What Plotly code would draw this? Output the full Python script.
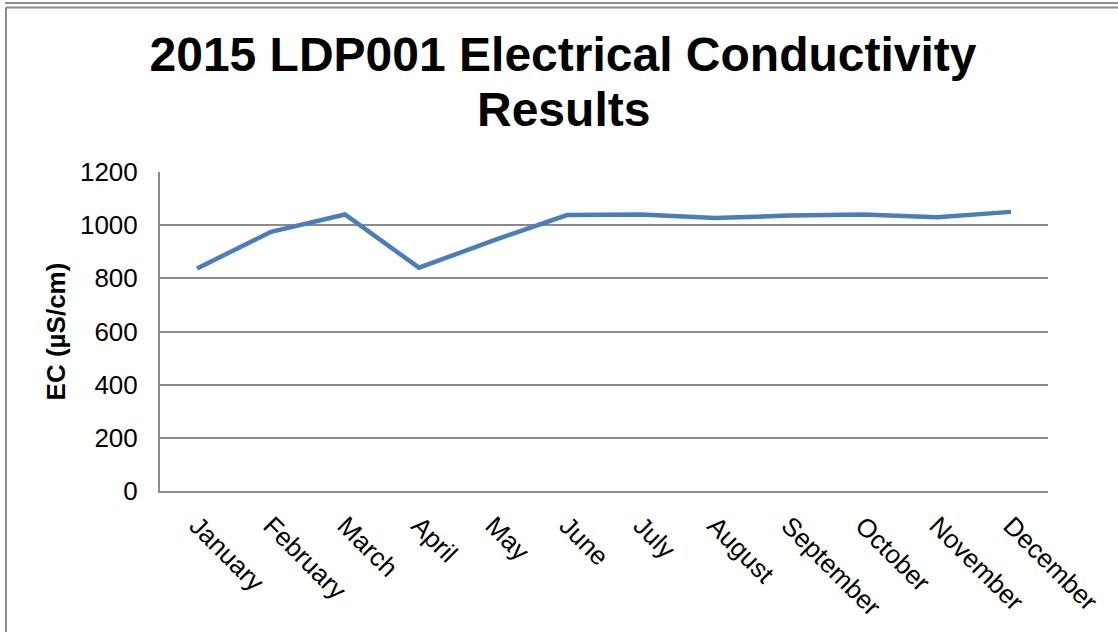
import plotly.graph_objects as go

# monthly EC readings for LDP001, 2015
months = ["January", "February", "March", "April", "May", "June",
          "July", "August", "September", "October", "November", "December"]
ec_values = [837, 975, 1040, 840, 942, 1038, 1040, 1027, 1036, 1040, 1030, 1050]
y_ticks = [0, 200, 400, 600, 800, 1000, 1200]

title_line1 = "2015 LDP001 Electrical Conductivity"
title_line2 = "Results"
y_label = "EC (µS/cm)"

WIDTH, HEIGHT = 1118, 632
PLOT_L, PLOT_R, PLOT_T, PLOT_B = 160, 1048, 172, 491
FONT = "Liberation Sans, Arial, sans-serif"
GRID = "#8a8a8a"
FRAME = "#8c8c8c"


def paper_x(px):
    return (px - PLOT_L) / (PLOT_R - PLOT_L)


def paper_y(py):
    return (PLOT_B - py) / (PLOT_B - PLOT_T)


fig = go.Figure()
fig.add_trace(
    go.Scatter(
        x=months,
        y=ec_values,
        mode="lines",
        line=dict(color="#4A7EBB", width=4.5),
        name="EC",
        showlegend=False,
    )
)

# chart frame (cropped Excel chart border)
shapes = [
    dict(type="line", xref="paper", yref="paper",
         x0=paper_x(5), x1=paper_x(1120), y0=paper_y(3), y1=paper_y(3),
         line=dict(color=FRAME, width=2)),
    dict(type="line", xref="paper", yref="paper",
         x0=paper_x(6), x1=paper_x(1120), y0=paper_y(7.5), y1=paper_y(7.5),
         line=dict(color=FRAME, width=2)),
    dict(type="line", xref="paper", yref="paper",
         x0=paper_x(6), x1=paper_x(6), y0=paper_y(7.5), y1=paper_y(640),
         line=dict(color=FRAME, width=2)),
]

fig.update_layout(
    width=WIDTH,
    height=HEIGHT,
    margin=dict(l=PLOT_L, r=WIDTH - PLOT_R, t=PLOT_T, b=HEIGHT - PLOT_B, autoexpand=False),
    paper_bgcolor="white",
    plot_bgcolor="white",
    font=dict(family=FONT, color="black", size=26),
    title=dict(
        text=f"<b>{title_line1}</b>",
        x=563 / WIDTH,
        xanchor="center",
        y=1 - 54 / HEIGHT,
        yanchor="middle",
        font=dict(size=48, family=FONT, color="black"),
    ),
    annotations=[
        dict(
            text=f"<b>{title_line2}</b>",
            x=paper_x(563),
            y=paper_y(109),
            xref="paper",
            yref="paper",
            xanchor="center",
            yanchor="middle",
            showarrow=False,
            font=dict(size=48, family=FONT, color="black"),
        )
    ],
    shapes=shapes,
    showlegend=False,
)

fig.update_xaxes(
    type="category",
    range=[-0.5, len(months) - 0.5],
    tickangle=45,
    showgrid=False,
    showline=True,
    linecolor=GRID,
    linewidth=2,
    ticks="outside",
    ticklen=7,
    tickcolor="rgba(0,0,0,0)",
    tickfont=dict(size=26, family=FONT, color="black"),
)
fig.update_yaxes(
    range=[0, 1200],
    tickvals=y_ticks,
    showgrid=True,
    gridcolor=GRID,
    gridwidth=2,
    zeroline=False,
    showline=True,
    linecolor=GRID,
    linewidth=2,
    ticks="outside",
    ticklen=15,
    tickcolor="rgba(0,0,0,0)",
    tickfont=dict(size=26, family=FONT, color="black"),
    title=dict(text=f"<b>{y_label}</b>", font=dict(size=26, family=FONT, color="black"), standoff=7),
)

# drop the default 8px page margin so the figure fills the window
fig.write_html(
    "out.html",
    config={"displayModeBar": False},
    post_script="document.body.style.margin = '0';",
)
